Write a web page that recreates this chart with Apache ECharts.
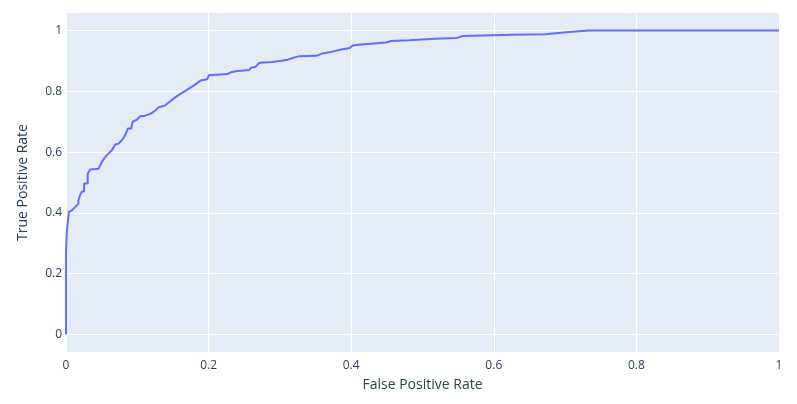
<!DOCTYPE html>
<html>
<head>
<meta charset="utf-8">
<script src="https://cdn.jsdelivr.net/npm/echarts@6/dist/echarts.min.js"></script>
<style>
  html, body { margin: 0; padding: 0; background: #fff; }
  #roc { width: 797px; height: 404px; }
</style>
</head>
<body>
<div id="roc"></div>
<script>
// ROC curve points
var fpr = [0, 0, 0.001, 0.003, 0.004, 0.008, 0.0127, 0.0174, 0.0174, 0.0197, 0.0221, 0.0254, 0.0254,
  0.0305, 0.0305, 0.0338, 0.0455, 0.0502, 0.0549, 0.0596, 0.0643, 0.069, 0.0737, 0.0784, 0.0831,
  0.0869, 0.0915, 0.0934, 0.0995, 0.1042, 0.1113, 0.1183, 0.1253, 0.13, 0.1394, 0.1465, 0.1535,
  0.1629, 0.1723, 0.1817, 0.1887, 0.198, 0.2005, 0.226, 0.233, 0.238, 0.257, 0.259, 0.266, 0.271,
  0.29, 0.309, 0.318, 0.327, 0.351, 0.36, 0.372, 0.386, 0.398, 0.402, 0.414, 0.428, 0.449, 0.456,
  0.482, 0.517, 0.548, 0.557, 0.585, 0.625, 0.672, 0.701, 0.733, 1];
var tpr = [0, 0.27, 0.333, 0.337, 0.403, 0.408, 0.419, 0.43, 0.44, 0.458, 0.47, 0.47, 0.497,
  0.497, 0.529, 0.543, 0.545, 0.567, 0.584, 0.595, 0.606, 0.625, 0.628, 0.639, 0.656,
  0.678, 0.678, 0.70, 0.707, 0.718, 0.72, 0.726, 0.737, 0.748, 0.754, 0.768, 0.781,
  0.795, 0.809, 0.823, 0.836, 0.840, 0.853, 0.857, 0.864, 0.866, 0.870, 0.877, 0.881, 0.894,
  0.897, 0.903, 0.910, 0.916, 0.917, 0.925, 0.930, 0.938, 0.943, 0.951, 0.954, 0.957, 0.961, 0.966,
  0.968, 0.973, 0.976, 0.982, 0.984, 0.986, 0.988, 0.995, 1, 1];
var yTicks = [0, 0.2, 0.4, 0.6, 0.8, 1];

var txt = '#2a3f5f';
var font = '"Open Sans", "DejaVu Sans", sans-serif';

var pts = fpr.map(function (x, i) { return [x, tpr[i]]; });

var chart = echarts.init(document.getElementById('roc'));
chart.setOption({
  animation: false,
  backgroundColor: '#fff',
  grid: { left: 66, right: 18, top: 13, bottom: 52, backgroundColor: '#E5ECF6', show: true, borderWidth: 0 },
  xAxis: {
    type: 'value', min: 0, max: 1, interval: 0.2,
    name: 'False Positive Rate', nameLocation: 'middle', nameGap: 26,
    nameTextStyle: { color: txt, fontSize: 14, fontFamily: font },
    axisLine: { show: false }, axisTick: { show: false },
    axisLabel: { color: txt, fontSize: 12, fontFamily: font, margin: 8 },
    splitLine: { lineStyle: { color: '#fff', width: 1 } }
  },
  yAxis: {
    type: 'value', min: -0.058, max: 1.058,
    name: 'True Positive Rate', nameLocation: 'middle', nameGap: 36,
    nameTextStyle: { color: txt, fontSize: 14, fontFamily: font },
    axisLine: { show: false },
    axisTick: { show: false, customValues: yTicks },
    axisLabel: { color: txt, fontSize: 12, fontFamily: font, margin: 4, customValues: yTicks },
    splitLine: { lineStyle: { color: '#fff', width: 1 } }
  },
  series: [{
    type: 'line',
    data: pts,
    showSymbol: false,
    lineStyle: { color: '#636efa', width: 2 },
    itemStyle: { color: '#636efa' }
  }]
});
</script>
</body>
</html>
